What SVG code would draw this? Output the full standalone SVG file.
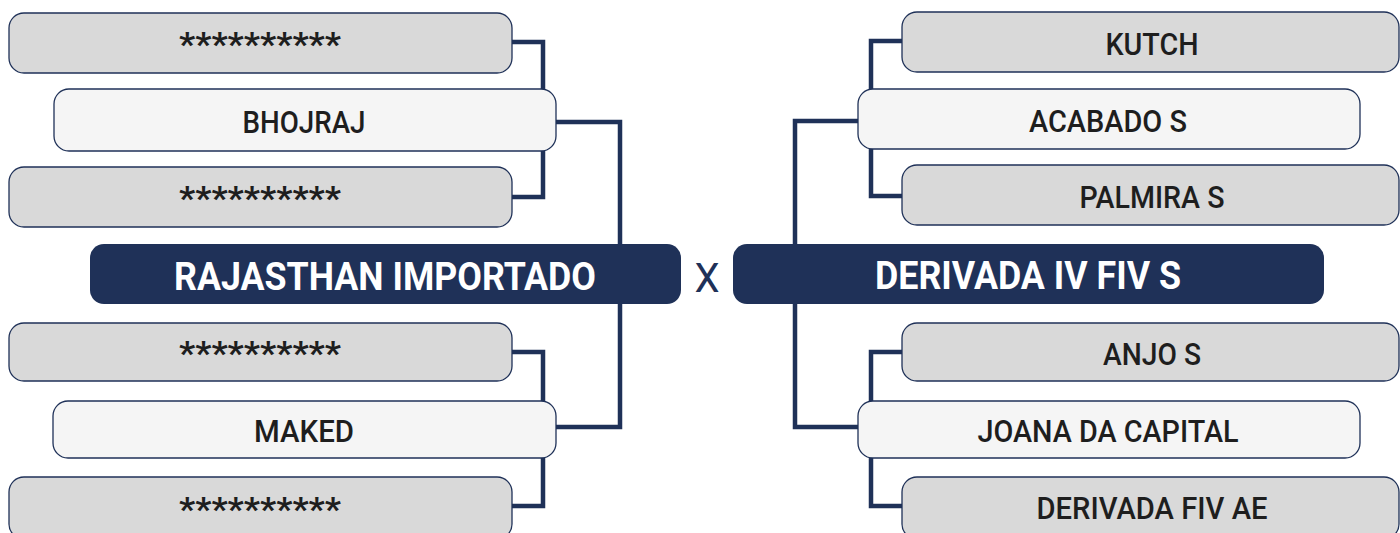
<svg xmlns="http://www.w3.org/2000/svg" width="1400" height="533" viewBox="0 0 1400 533">
<style>
.bg{fill:#ffffff}
.conn{fill:none;stroke:#1f3158;stroke-width:4.5;stroke-linejoin:miter}
.gray{fill:#d9d9d9;stroke:#1f3158;stroke-width:1.3}
.light{fill:#f5f5f5;stroke:#1f3158;stroke-width:1.3}
.main{fill:#1f3158}
.t{font-family:Roboto,"Liberation Sans",sans-serif;font-size:32px;font-weight:500;fill:#1e1e1e;text-anchor:middle}
.ast{font-family:Roboto,"Liberation Sans",sans-serif;font-size:34px;font-weight:700;fill:#1e1e1e;text-anchor:middle}
.h{font-family:Roboto,"Liberation Sans",sans-serif;font-size:39px;font-weight:700;fill:#ffffff;text-anchor:middle}
.x{font-family:Roboto,"Liberation Sans",sans-serif;font-size:40px;font-weight:400;fill:#1f3158;text-anchor:middle}
</style>
<rect class="bg" x="0" y="0" width="1400" height="533"/>
<g id="connectors">
<path class="conn" d="M512,42 H543 V197 H512"/>
<path class="conn" d="M556,122 H620 V427 H556"/>
<path class="conn" d="M512,352 H543 V506 H512"/>
<path class="conn" d="M902,41 H871 V196 H902"/>
<path class="conn" d="M858,121 H795 V427 H858"/>
<path class="conn" d="M902,352 H871 V506 H902"/>
</g>
<g id="l1"><rect class="gray" x="9" y="13" width="503" height="60" rx="15"/><text class="ast" x="260" y="56" textLength="162" lengthAdjust="spacingAndGlyphs">**********</text></g>
<g id="bhojraj"><rect class="light" x="54" y="89" width="502" height="62" rx="15"/><text class="t" x="304" y="133" textLength="123" lengthAdjust="spacingAndGlyphs">BHOJRAJ</text></g>
<g id="l3"><rect class="gray" x="9" y="167" width="503" height="60" rx="15"/><text class="ast" x="260" y="210" textLength="162" lengthAdjust="spacingAndGlyphs">**********</text></g>
<g id="rajasthan"><rect class="main" x="90" y="244" width="591" height="60" rx="14"/><text class="h" x="385" y="289.5" textLength="422" lengthAdjust="spacingAndGlyphs">RAJASTHAN IMPORTADO</text></g>
<g id="l4"><rect class="gray" x="9" y="323" width="503" height="58" rx="15"/><text class="ast" x="260" y="365" textLength="162" lengthAdjust="spacingAndGlyphs">**********</text></g>
<g id="maked"><rect class="light" x="53" y="401" width="503" height="57" rx="15"/><text class="t" x="304" y="442" textLength="100" lengthAdjust="spacingAndGlyphs">MAKED</text></g>
<g id="l6"><rect class="gray" x="9" y="477" width="503" height="62" rx="15"/><text class="ast" x="260" y="521" textLength="162" lengthAdjust="spacingAndGlyphs">**********</text></g>
<g id="versus"><text class="x" x="707" y="292">X</text></g>
<g id="kutch"><rect class="gray" x="902" y="12" width="497" height="60" rx="15"/><text class="t" x="1152" y="55" textLength="93" lengthAdjust="spacingAndGlyphs">KUTCH</text></g>
<g id="acabado"><rect class="light" x="858" y="89" width="502" height="60" rx="15"/><text class="t" x="1108" y="132" textLength="158" lengthAdjust="spacingAndGlyphs">ACABADO S</text></g>
<g id="palmira"><rect class="gray" x="902" y="165" width="497" height="60" rx="15"/><text class="t" x="1152" y="208" textLength="145" lengthAdjust="spacingAndGlyphs">PALMIRA S</text></g>
<g id="derivada"><rect class="main" x="733" y="244" width="591" height="60" rx="14"/><text class="h" x="1028" y="289" textLength="306" lengthAdjust="spacingAndGlyphs">DERIVADA IV FIV S</text></g>
<g id="anjo"><rect class="gray" x="902" y="323" width="497" height="58" rx="15"/><text class="t" x="1152" y="365" textLength="98" lengthAdjust="spacingAndGlyphs">ANJO S</text></g>
<g id="joana"><rect class="light" x="858" y="401" width="502" height="57" rx="15"/><text class="t" x="1108" y="442" textLength="261" lengthAdjust="spacingAndGlyphs">JOANA DA CAPITAL</text></g>
<g id="derivadafiv"><rect class="gray" x="902" y="477" width="497" height="62" rx="15"/><text class="t" x="1152" y="519" textLength="231" lengthAdjust="spacingAndGlyphs">DERIVADA FIV AE</text></g>
</svg>
